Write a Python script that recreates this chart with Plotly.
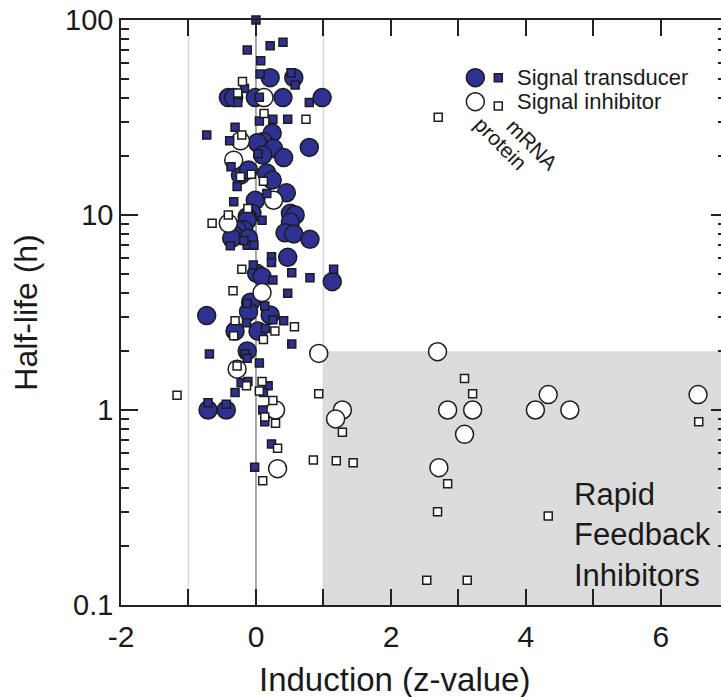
import math
import plotly.graph_objects as go

# ---------------- data (x = induction z-value, y = half-life in h) ----------------
transducer_protein_x = [0.21, 0.56, -0.41, -0.33, -0.01, 0.40, 0.98, 0.24, 0.11, 0.02, 0.26, 0.79, 0.10, 0.41,
                        -0.23, -0.11, 0.16, 0.24, 0.45, -0.01, -0.06, -0.13, -0.13, -0.18, -0.28, -0.33, -0.36, -0.11,
                        0.51, 0.58, 0.51, 0.43, 0.56, 0.80, 0.47, 0.01, 0.09, 1.13, -0.08, -0.11, 0.21, -0.73,
                        -0.31, 0.03, -0.13, -0.71, -0.44]
transducer_protein_y = [50.6, 50.6, 40, 40, 40, 40, 40, 26.3, 23.8, 23.5, 21.9, 22.2, 20.3, 19.7,
                        16.0, 17.0, 16.4, 15.1, 13.0, 11.9, 10.2, 9.8, 9.4, 8.4, 8.4, 7.9, 7.6, 7.6,
                        10.2, 10.0, 9.2, 8.1, 8.0, 7.5, 6.07, 5.02, 4.83, 4.55, 3.57, 3.19, 3.07, 3.05,
                        2.54, 2.54, 2.01, 1.0, 1.0]

inhibitor_protein_x = [0.12, -0.23, -0.33, 0.26, -0.41, 0.09, -0.28, 0.93, 0.29, 0.32, 1.28, 1.18,
                       2.69, 2.84, 3.21, 3.09, 2.71, 4.14, 4.33, 4.65, 6.55]
inhibitor_protein_y = [40, 24, 19.1, 11.9, 9.06, 4.0, 1.62, 1.95, 1.0, 0.50, 1.0, 0.90,
                       1.99, 1.0, 1.0, 0.75, 0.506, 1.0, 1.2, 1.0, 1.2]

transducer_mrna_x = [0.0, -0.13, 0.21, 0.40, 0.07, 0.06, 0.52, 0.58, -0.17, -0.27, 0.05, 0.79, 0.05, 0.25, 0.47,
                     -0.73, -0.31, -0.39, 0.03, -0.37, -0.28, 0.16, -0.33, 0.09,
                     -0.38, -0.13, -0.03, -0.18, 0.23, 0.23, -0.04, 0.25, 0.53, 0.80, 1.15, 0.47, -0.13, 0.13,
                     0.25, 0.41, -0.14, 0.14, 0.53, -0.16, -0.13, -0.69, 0.05, -0.22, -0.12, 0.18, 0.11, -0.31,
                     -0.71, -0.44, 0.10, 0.13, 0.23, -0.02]
transducer_mrna_y = [100, 70.2, 73.7, 77, 61.8, 52.8, 53.7, 46.4, 44.5, 37.8, 40.2, 37.8, 30.3, 31, 31,
                     25.7, 28.2, 24, 20.6, 17.7, 14, 12.9, 11.7, 9.4,
                     6.96, 7.0, 7.0, 7.4, 6.1, 5.7, 5.54, 4.64, 5.06, 4.77, 5.27, 3.97, 3.52, 3.41,
                     2.9, 2.87, 2.8, 2.62, 2.18, 1.94, 1.84, 1.94, 1.74, 1.38, 1.4, 1.33, 1.23, 1.23,
                     1.09, 1.07, 1.0, 0.87, 0.67, 0.508]

inhibitor_mrna_x = [-0.20, -0.27, 0.12, 0.74, -0.21, -0.23, -0.07, 0.11, -0.12, -0.41, -0.65, -0.21, -0.34,
                    -0.31, 0.57, 0.28, -0.33, 0.11, -0.28, -0.14, 0.09, 0.05, 0.93, 0.25, 0.13, 0.29, -1.17,
                    0.32, 0.10, 0.85, 1.19, 1.44, 1.28, 2.70, 3.09, 3.21, 2.84, 2.69, 2.53, 3.13, 4.33, 6.56]
inhibitor_mrna_y = [48.4, 42.2, 33.2, 31, 25.7, 15.7, 16.2, 14.9, 10.8, 10, 9.06, 5.27, 4.09,
                    2.87, 2.67, 2.54, 2.4, 2.3, 1.68, 1.33, 1.4, 1.25, 1.21, 1.12, 0.92, 0.855, 1.19,
                    0.636, 0.434, 0.554, 0.549, 0.537, 0.77, 31.7, 1.45, 1.21, 0.418, 0.301, 0.134, 0.134, 0.286, 0.87]

x_ticks = [-2, 0, 2, 4, 6]
x_tick_text = ["-2", "0", "2", "4", "6"]
y_ticks = [0.1, 1, 10, 100]
y_tick_text = ["0.1", "1", "10", "100"]
series_names = ["Signal transducer", "Signal inhibitor"]
guide_lines = [-1, 0, 1]           # vertical reference lines (z-values)
rapid_box = [1, 7, 0.1, 2]         # x0, x1, y0, y1 of the rapid-feedback region

# ---------------- style ----------------
NAVY = "#2e3192"
EDGE = "#1c1c1c"
TXT = "#1a1a1a"
FONT = "Liberation Sans, Arial, sans-serif"
X_RANGE = [-2, 6.89]
L = math.log10  # annotations on a log axis take log10 positions

fig = go.Figure()

def add(x, y, symbol, size, fill, name):
    fig.add_trace(go.Scatter(
        x=x, y=y, mode="markers", name=name, showlegend=False,
        marker=dict(symbol=symbol, size=size, color=fill, line=dict(color=EDGE, width=1.5)),
        cliponaxis=False))

add(transducer_protein_x, transducer_protein_y, "circle", 18, NAVY, "transducer protein")
add(inhibitor_protein_x, inhibitor_protein_y, "circle", 18, "white", "inhibitor protein")
add(transducer_mrna_x, transducer_mrna_y, "square", 8, NAVY, "transducer mRNA")
add(inhibitor_mrna_x, inhibitor_mrna_y, "square", 8, "white", "inhibitor mRNA")

# legend key glyphs
leg_cx, leg_sx = 3.25, 3.59
leg_y = [50.6, 38.1]
fig.add_trace(go.Scatter(x=[leg_cx, leg_cx], y=leg_y, mode="markers", showlegend=False,
                         marker=dict(symbol="circle", size=18, color=[NAVY, "white"],
                                     line=dict(color=EDGE, width=1.5))))
fig.add_trace(go.Scatter(x=[leg_sx, leg_sx], y=[leg_y[0], 36.2], mode="markers", showlegend=False,
                         marker=dict(symbol="square", size=8, color=[NAVY, "white"],
                                     line=dict(color=EDGE, width=1.5))))
# invisible trace to activate right-side tick axis
fig.add_trace(go.Scatter(x=[None], y=[None], yaxis="y2", showlegend=False, hoverinfo="skip"))

shapes = [
    dict(type="rect", xref="x", yref="y", x0=rapid_box[0], x1=rapid_box[1], y0=rapid_box[2], y1=rapid_box[3],
         fillcolor="#dcdcdc", line=dict(width=0), layer="below"),
    dict(type="line", xref="x", yref="paper", x0=guide_lines[0], x1=guide_lines[0], y0=0, y1=1,
         line=dict(color="#d4d4d4", width=1.5), layer="below"),
    dict(type="line", xref="x", yref="paper", x0=guide_lines[2], x1=guide_lines[2], y0=0, y1=1,
         line=dict(color="#d4d4d4", width=1.5), layer="below"),
    dict(type="line", xref="x", yref="paper", x0=guide_lines[1], x1=guide_lines[1], y0=0, y1=1,
         line=dict(color="#8c8c8c", width=1.5), layer="below"),
]

annotations = [
    dict(x=3.84, y=L(50.6), xref="x", yref="y", text=series_names[0], showarrow=False,
         xanchor="left", yanchor="middle", font=dict(size=22, color=TXT, family=FONT)),
    dict(x=3.84, y=L(38.1), xref="x", yref="y", text=series_names[1], showarrow=False,
         xanchor="left", yanchor="middle", font=dict(size=22, color=TXT, family=FONT)),
    dict(x=4.09, y=L(22.9), xref="x", yref="y", text="mRNA", textangle=45, showarrow=False,
         font=dict(size=21, color=TXT, family=FONT)),
    dict(x=3.63, y=L(23.4), xref="x", yref="y", text="protein", textangle=45, showarrow=False,
         font=dict(size=21, color=TXT, family=FONT)),
    dict(x=4.68, y=L(0.228), xref="x", yref="y", text="Rapid<br>Feedback<br>Inhibitors", showarrow=False,
         xanchor="left", yanchor="middle", align="left",
         font=dict(size=31, color=TXT, family=FONT)),
    # x-axis title (offset to the left of the plot centre, as in the original)
    dict(x=0.455, y=-0.128, xref="paper", yref="paper", text="Induction (z-value)", showarrow=False,
         xanchor="center", yanchor="middle", font=dict(size=33, color=TXT, family=FONT)),
]

minor_y = [m * 10 ** e for e in (-1, 0, 1) for m in range(2, 10)]

fig.update_layout(
    width=721, height=697,
    margin=dict(l=121, r=0, t=20, b=92),
    paper_bgcolor="white", plot_bgcolor="white",
    font=dict(family=FONT, color=TXT),
    shapes=shapes, annotations=annotations,
    xaxis=dict(range=X_RANGE, tickvals=x_ticks, ticktext=x_tick_text, ticks="inside", ticklen=16, tickwidth=1.5,
               tickcolor="#222", showline=True, linecolor="#222", linewidth=1.5, mirror="allticks",
               showgrid=False, zeroline=False, tickfont=dict(size=30), ticklabelstandoff=4,
               minor=dict(dtick=1, ticks="inside", ticklen=8, tickwidth=1.5, tickcolor="#222", showgrid=False)),
    yaxis=dict(type="log", range=[-1, 2], tickvals=y_ticks, ticktext=y_tick_text, ticks="inside",
               ticklen=17, tickwidth=1.5, tickcolor="#222", showline=True, linecolor="#222", linewidth=1.5,
               showgrid=False, zeroline=False, tickfont=dict(size=29),
               minor=dict(tickvals=minor_y, ticks="inside", ticklen=8, tickwidth=1.5, tickcolor="#222",
                          showgrid=False),
               title=dict(text="Half-life (h)", font=dict(size=32), standoff=18)),
    yaxis2=dict(type="log", range=[-1, 2], overlaying="y", side="right", tickvals=y_ticks,
                showticklabels=False, ticks="inside", ticklen=10, tickwidth=1.5, tickcolor="#222",
                showline=False, showgrid=False, zeroline=False,
                minor=dict(tickvals=minor_y, ticks="inside", ticklen=3, tickwidth=1.5, tickcolor="#222",
                           showgrid=False)),
)

fig.write_html("out.html")
